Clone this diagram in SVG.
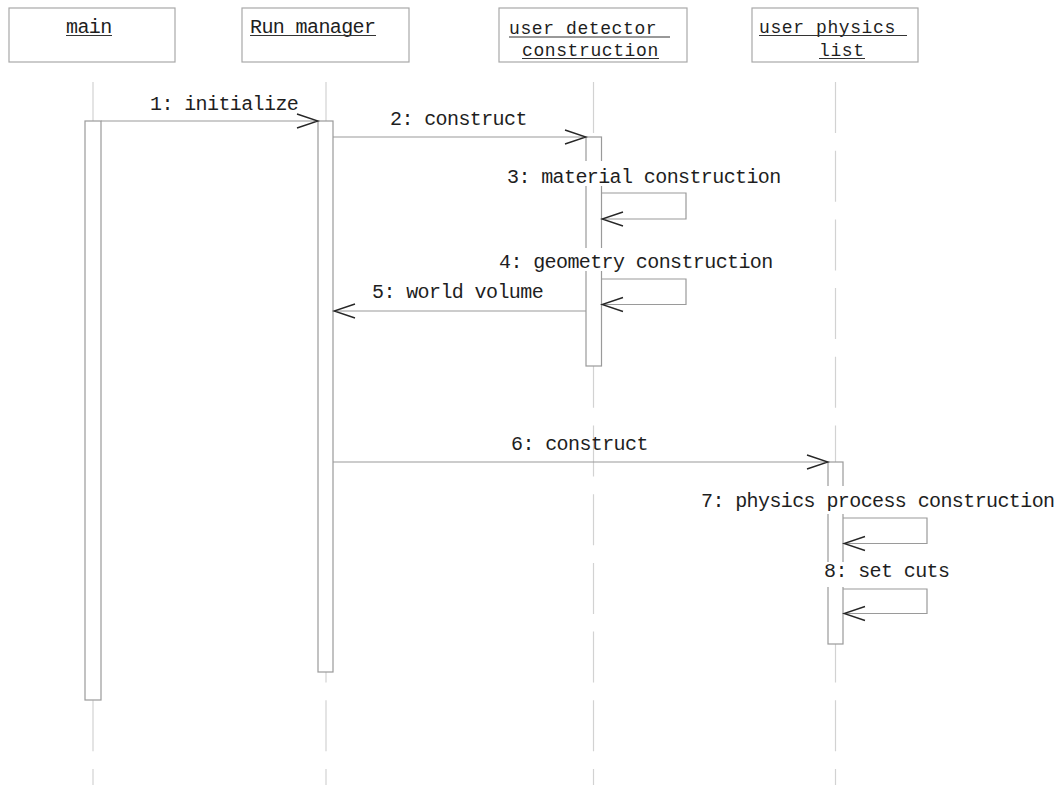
<svg xmlns="http://www.w3.org/2000/svg" width="1064" height="785" viewBox="0 0 1064 785">
  <style>
    .box { fill: #ffffff; stroke: #a8a8a8; stroke-width: 1.2; }
    .title { font-family: "Liberation Mono", "DejaVu Sans Mono", monospace; font-size: 20px; letter-spacing: -0.6px; fill: #1e1e1e; }
    .title2 { font-family: "Liberation Mono", "DejaVu Sans Mono", monospace; font-size: 18px; letter-spacing: 0.6px; fill: #1e1e1e; }
    .uline { stroke: #333333; stroke-width: 1; }
    .lifeline { stroke: #d2d2d2; stroke-width: 1.2; stroke-dasharray: 51 17.7; fill: none; }
    .act { fill: #ffffff; stroke: #9a9a9a; stroke-width: 1.2; }
    .msg { fill: none; stroke: #9a9a9a; stroke-width: 1.2; }
    .label { font-family: "Liberation Mono", "DejaVu Sans Mono", monospace; font-size: 20px; letter-spacing: -0.6px; fill: #1e1e1e; }
    .bg { fill: #ffffff; stroke: none; }
  </style>
  <defs>
    <marker id="open" markerUnits="userSpaceOnUse" markerWidth="24" markerHeight="18" refX="22" refY="8" orient="auto">
      <path d="M1,1 L22,8 L1,15" fill="none" stroke="#262626" stroke-width="1.4"/>
    </marker>
  </defs>

  <rect width="1064" height="785" fill="#ffffff"/>

  <!-- lifelines -->
  <g id="lifelines">
    <line class="lifeline" x1="93" y1="82" x2="93" y2="785"/>
    <line class="lifeline" x1="326" y1="82" x2="326" y2="785"/>
    <line class="lifeline" x1="593.5" y1="82" x2="593.5" y2="785"/>
    <line class="lifeline" x1="835.5" y1="82" x2="835.5" y2="785"/>
  </g>

  <!-- participants -->
  <g id="main">
    <rect class="box" x="9" y="8" width="166" height="54"/>
    <text class="title" x="66" y="33">main</text>
    <line class="uline" x1="66" y1="35.5" x2="112" y2="35.5"/>
    <rect class="act" x="85" y="121" width="16" height="579"/>
  </g>
  <g id="run-manager">
    <rect class="box" x="242" y="8" width="167" height="54"/>
    <text class="title" x="250" y="33">Run manager</text>
    <line class="uline" x1="250" y1="35.5" x2="376" y2="35.5"/>
    <rect class="act" x="318" y="121" width="15" height="551"/>
  </g>
  <g id="user-detector-construction">
    <rect class="box" x="499" y="8" width="188" height="54"/>
    <text class="title2" x="509" y="34" xml:space="preserve">user detector </text>
    <line class="uline" x1="509" y1="37" x2="670" y2="37"/>
    <text class="title2" x="522" y="55.5">construction</text>
    <line class="uline" x1="522" y1="58.5" x2="659" y2="58.5"/>
    <rect class="act" x="586" y="137" width="15.5" height="229"/>
  </g>
  <g id="user-physics-list">
    <rect class="box" x="752" y="8" width="166" height="54"/>
    <text class="title2" x="759" y="33" xml:space="preserve">user physics </text>
    <line class="uline" x1="759" y1="35.5" x2="907" y2="35.5"/>
    <text class="title2" x="819" y="55.5">list</text>
    <line class="uline" x1="819" y1="58.5" x2="865" y2="58.5"/>
    <rect class="act" x="828" y="462" width="15" height="182"/>
  </g>

  <!-- messages -->
  <g id="connectors">
    <line class="msg" x1="101" y1="121" x2="318" y2="121" marker-end="url(#open)"/>
    <text class="label" x="150" y="110">1: initialize</text>

    <line class="msg" x1="333" y1="137" x2="586" y2="137" marker-end="url(#open)"/>
    <text class="label" x="390" y="125">2: construct</text>

    <polyline class="msg" points="601.5,193 686,193 686,219 602,219" marker-end="url(#open)"/>
    <rect class="bg" x="505" y="161" width="281" height="25"/>
    <text class="label" x="507" y="183">3: material construction</text>

    <polyline class="msg" points="601.5,279 686,279 686,304.5 602,304.5" marker-end="url(#open)"/>
    <rect class="bg" x="497" y="248" width="281" height="23"/>
    <text class="label" x="499" y="268">4: geometry construction</text>

    <line class="msg" x1="586" y1="311" x2="334" y2="311" marker-end="url(#open)"/>
    <text class="label" x="372" y="298">5: world volume</text>

    <line class="msg" x1="333" y1="462" x2="828" y2="462" marker-end="url(#open)"/>
    <text class="label" x="511" y="450">6: construct</text>

    <polyline class="msg" points="843,518 927,518 927,543.5 844,543.5" marker-end="url(#open)"/>
    <rect class="bg" x="699" y="486" width="362" height="28"/>
    <text class="label" x="701" y="507">7: physics process construction</text>

    <polyline class="msg" points="843,589 927,589 927,613.5 844,613.5" marker-end="url(#open)"/>
    <rect class="bg" x="822" y="562" width="130" height="25"/>
    <text class="label" x="824" y="577">8: set cuts</text>
  </g>
</svg>
